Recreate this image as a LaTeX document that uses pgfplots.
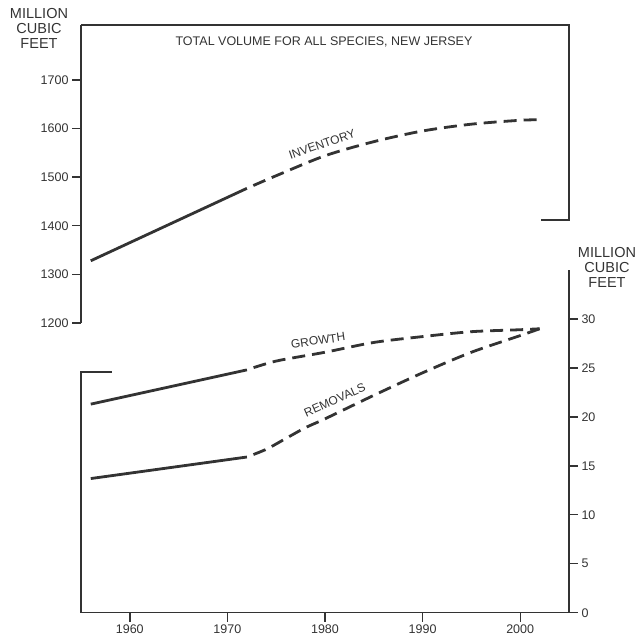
\documentclass[border=0pt]{standalone}
\usepackage{fontspec}
\setmainfont{Liberation Sans}
\usepackage{pgfplots}
\pgfplotsset{compat=1.18}
\definecolor{ink}{gray}{0.2}
\begin{document}
\begin{tikzpicture}
\useasboundingbox (0pt,0pt) rectangle (638pt,641pt);
% ---------- upper axis: inventory ----------
\begin{axis}[
  at={(81pt,318pt)}, anchor=south west, scale only axis,
  width=488pt, height=298pt,
  xmin=1955, xmax=2005, ymin=1200, ymax=1813,
  axis x line=none, axis y line=left,
  axis line style={-, line width=1.4pt, ink},
  xtick=\empty,
  ytick={1200,1300,1400,1500,1600,1700},
  tick align=outside, major tick length=9pt,
  every tick/.style={ink, line width=1.4pt},
  yticklabel style={font=\fontsize{12.5}{13}\selectfont, text=ink},
  /pgf/number format/assume math mode=true,
  /pgf/number format/1000 sep={},
  clip=false,
]
\addplot[ink, line width=2.8pt] coordinates {(1956,1328) (1972,1477)};
\addplot[ink, line width=2.8pt, smooth, dash pattern=on 13pt off 7pt, dash phase=13pt] coordinates {
 (1972,1477) (1975,1503) (1980,1544) (1985,1573) (1990,1595) (1995,1609) (2000,1617) (2002,1618)};
\draw[ink, line width=1.4pt] (rel axis cs:0,1) -- (rel axis cs:1,1) -- (axis cs:2005,1412) -- (axis cs:2002.1,1412);
\node[rotate=19, text=ink, font=\fontsize{12}{13}\selectfont] at (axis cs:1979.7,1568) {INVENTORY};
\end{axis}
% ---------- lower axis: growth and removals ----------
\begin{axis}[
  at={(81pt,28.3pt)}, anchor=south west, scale only axis,
  width=488pt, height=342.7pt,
  xmin=1955, xmax=2005, ymin=0, ymax=35,
  axis x line=bottom, axis y line=right,
  axis line style={-, line width=1.4pt, ink},
  xtick={1960,1970,1980,1990,2000},
  ytick={0,5,10,15,20,25,30},
  tick align=outside, major tick length=9pt,
  every tick/.style={ink, line width=1.4pt},
  ticklabel style={font=\fontsize{12.5}{13}\selectfont, text=ink},
  /pgf/number format/assume math mode=true,
  /pgf/number format/1000 sep={},
  clip=false,
]
\addplot[ink, line width=2.8pt] coordinates {(1956,21.3) (1972,24.8)};
\addplot[ink, line width=2.8pt, smooth, dash pattern=on 13pt off 7pt, dash phase=13pt] coordinates {
 (1972,24.8) (1975,25.7) (1980,26.6) (1985,27.6) (1990,28.2) (1995,28.7) (2000,28.9) (2002,29.0)};
\addplot[ink, line width=2.8pt] coordinates {(1956,13.7) (1972,15.9)};
\addplot[ink, line width=2.8pt, smooth, dash pattern=on 13pt off 7pt, dash phase=13pt] coordinates {
 (1972,15.9) (1974,16.7) (1976,17.8) (1978,18.9) (1980,19.8) (1985,22.2) (1990,24.5) (1995,26.6) (2000,28.3) (2002,29.0)};
\draw[ink, line width=1.4pt] (axis cs:1955,0) -- (axis cs:1955,24.6) -- (axis cs:1958.2,24.6);
\draw[ink, line width=1.4pt] (axis cs:2005,0) -- (axis cs:2005.9,0);
\node[rotate=8, text=ink, font=\fontsize{12}{13}\selectfont] at (axis cs:1979.3,27.8) {GROWTH};
\node[rotate=24, text=ink, font=\fontsize{12}{13}\selectfont] at (axis cs:1981.0,21.7) {REMOVALS};
\end{axis}
% ---------- texts ----------
\node[align=center, text=ink, font=\fontsize{14.5}{15}\selectfont] at (39pt,613pt) {MILLION\\CUBIC\\FEET};
\node[align=center, text=ink, font=\fontsize{14.5}{15}\selectfont] at (607pt,374pt) {MILLION\\CUBIC\\FEET};
\node[text=ink, font=\fontsize{12.5}{14}\selectfont] at (324pt,599pt) {TOTAL VOLUME FOR ALL SPECIES, NEW JERSEY};
\end{tikzpicture}
\end{document}
